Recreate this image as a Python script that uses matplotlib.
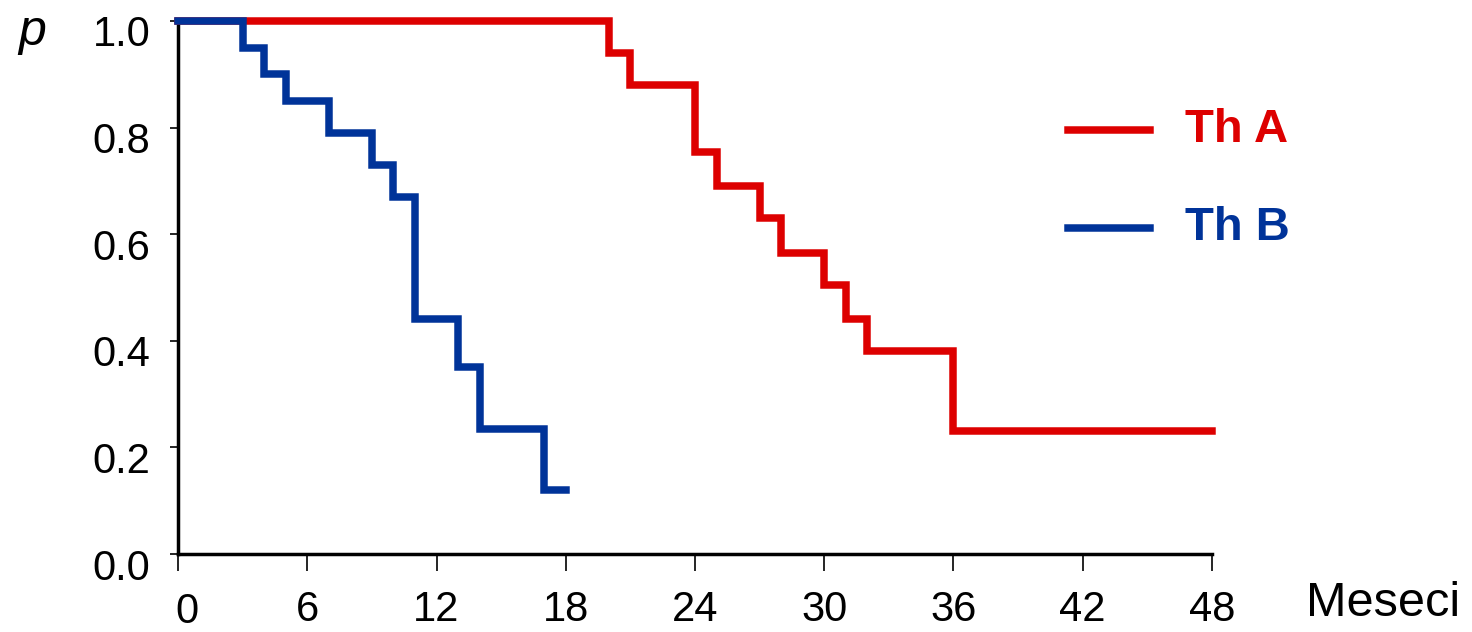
import matplotlib
matplotlib.use("Agg")
import matplotlib.pyplot as plt
import matplotlib.transforms as mtransforms

plt.rcParams['font.family'] = ['Liberation Sans', 'DejaVu Sans']

# Data (Kaplan-Meier style step curves)
months_a = [0, 20, 21, 24, 25, 27, 28, 30, 31, 32, 36, 48]
surv_a = [1.0, 0.94, 0.88, 0.755, 0.69, 0.63, 0.565, 0.505, 0.44, 0.38, 0.23, 0.23]
months_b = [0, 3, 4, 5, 7, 9, 10, 11, 13, 14, 17, 18]
surv_b = [1.0, 0.95, 0.90, 0.85, 0.79, 0.73, 0.67, 0.44, 0.35, 0.235, 0.12, 0.12]
x_ticks = [0, 6, 12, 18, 24, 30, 36, 42, 48]
y_ticks = [0.0, 0.2, 0.4, 0.6, 0.8, 1.0]
labels = ["Th A", "Th B"]
colors = ["#dd0000", "#003399"]

fig = plt.figure(figsize=(14.72, 6.32), dpi=100)
ax = fig.add_axes([178/1472, 1-554/632, (1212-178)/1472, (554-21)/632])

ax.step(months_a, surv_a, where='post', color=colors[0], lw=5.4,
        solid_joinstyle='miter', clip_on=False, zorder=3)
ax.step(months_b, surv_b, where='post', color=colors[1], lw=5.4,
        solid_joinstyle='miter', clip_on=False, zorder=4)

ax.set_xlim(0, 48)
ax.set_ylim(0, 1.0)
for s in ['top', 'right']:
    ax.spines[s].set_visible(False)
for s in ['left', 'bottom']:
    ax.spines[s].set_linewidth(2.5)
    ax.spines[s].set_color('black')

ax.set_xticks(x_ticks)
ax.set_xticklabels([str(v) for v in x_ticks], fontsize=30)
ax.set_yticks(y_ticks)
ax.set_yticklabels([f"{v:.1f}" for v in y_ticks], fontsize=30)
ax.tick_params(axis='x', direction='out', length=12, width=1.2, pad=14)
ax.tick_params(axis='y', direction='out', length=6, width=1.2, pad=14)

# shift y tick labels slightly downward like the reference
off = mtransforms.ScaledTranslation(0, -10/100, fig.dpi_scale_trans)
for lab in ax.get_yticklabels():
    lab.set_transform(lab.get_transform() + off)
xl = ax.get_xticklabels()
xl[0].set_transform(xl[0].get_transform() + mtransforms.ScaledTranslation(9/100, -2/100, fig.dpi_scale_trans))

fig.text(1383/1472, 1-604/632, "Meseci", fontsize=35, ha='center', va='center')
fig.text(32/1472, 1-32/632, "p", fontsize=36, style='italic', ha='center', va='center')

# legend
for i, (lab, col) in enumerate(zip(labels, colors)):
    ly = 1 - (130 + i * 98) / 632
    fig.add_artist(plt.Line2D([1068/1472, 1150/1472], [ly, ly], color=col, lw=5.4,
                              transform=fig.transFigure))
    fig.text(1185/1472, ly, lab, color=col, fontsize=34, fontweight='bold',
             ha='left', va='center')

fig.savefig("out.png", dpi=100)
